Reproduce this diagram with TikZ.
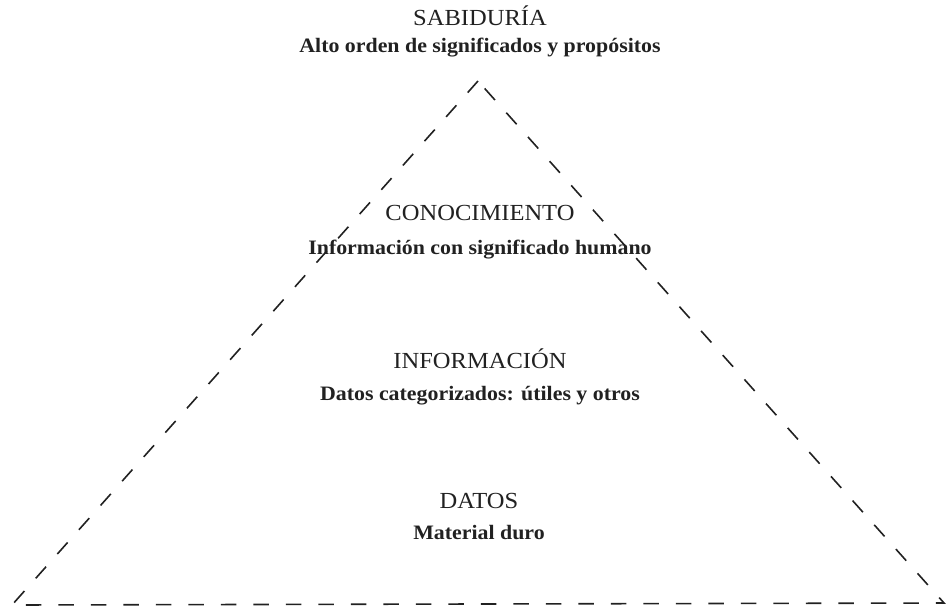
\documentclass[tikz,border=0pt]{standalone}
\usepackage{fontspec}
\setmainfont{Liberation Serif}
\newfontfamily\pyrfont[FakeStretch=1.067]{Liberation Serif}
\begin{document}
\begin{tikzpicture}[x=1pt,y=-1pt,
  levelname/.style={font=\pyrfont\fontsize{23}{27}\selectfont, text=black!87, inner sep=0pt, anchor=base},
  leveldesc/.style={font=\pyrfont\fontsize{20.5}{24}\selectfont\bfseries, text=black!87, inner sep=0pt, anchor=base},
  pyramidedge/.style={draw=black!87, line width=1.6pt, dash pattern=on 15.5pt off 17pt}]
\useasboundingbox (0,0) rectangle (948,608);
\coordinate (apex) at (478,81);
\coordinate (bl) at (12,605);
\coordinate (br) at (944,603);
\draw[pyramidedge] (apex) -- (bl) -- (br) -- cycle;
\node[levelname] (sab) at (480,25) {SABIDURÍA};
\node[leveldesc] (sabd) at (480,52) {Alto orden de significados y propósitos};
\node[levelname] (con) at (480,220) {CONOCIMIENTO};
\node[leveldesc] (cond) at (480,254) {Información con significado humano};
\node[levelname] (inf) at (480,368) {INFORMACIÓN};
\node[leveldesc] (infd) at (480,400) {Datos categorizados: útiles y otros};
\node[levelname] (dat) at (479,508) {DATOS};
\node[leveldesc] (datd) at (479,539) {Material duro};
\end{tikzpicture}
\end{document}
